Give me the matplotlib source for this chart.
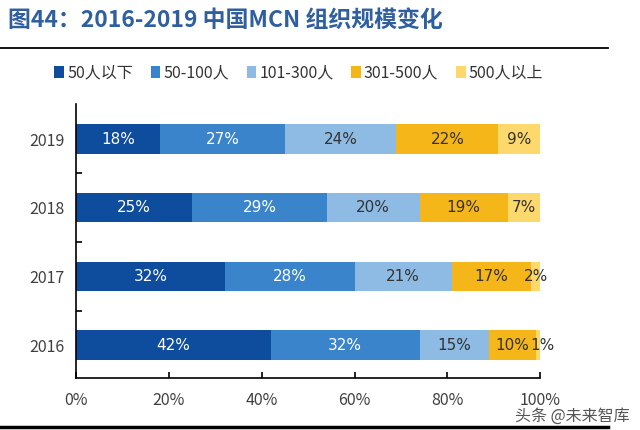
import numpy as np
from matplotlib import pyplot as plt

plt.rcParams["font.family"] = ["Noto Sans CJK SC", "DejaVu Sans"]

years = ["2016", "2017", "2018", "2019"]
categories = ["50人以下", "50-100人", "101-300人", "301-500人", "500人以上"]
# share of each size group per year (%), rows follow years
shares = {
    "50人以下": [42, 32, 25, 18],
    "50-100人": [32, 28, 29, 27],
    "101-300人": [15, 21, 20, 24],
    "301-500人": [10, 17, 19, 22],
    "500人以上": [1, 2, 7, 9],
}
colors = ["#0e4c9e", "#3a84cc", "#8dbbe4", "#f5b619", "#fdd86c"]
label_colors = ["white", "white", "#333333", "#333333", "#333333"]

fig = plt.figure(figsize=(6.4, 4.3), dpi=100)
ax = fig.add_axes([0.119, 0.121, 0.725, 0.637])

y = np.arange(len(years))
left = np.zeros(len(years))
for cat, col, tcol in zip(categories, colors, label_colors):
    vals = np.array(shares[cat], dtype=float)
    ax.barh(y, vals, left=left, height=0.43, color=col, label=cat)
    for yi, (lft, v) in enumerate(zip(left, vals)):
        xpos = lft + v / 2
        # thin 1% slice: push label a little right so it clears its neighbour
        if v < 2:
            xpos = lft + v + 0.5
        ax.text(xpos, yi, f"{int(v)}%", ha="center", va="center",
                color=tcol, fontsize=11, family=["DejaVu Sans"])
    left += vals

ax.set_xlim(0, 100)
ax.set_ylim(-0.48, 3.51)
ax.set_xticks([0, 20, 40, 60, 80, 100])
ax.set_xticklabels(["0%", "20%", "40%", "60%", "80%", "100%"])
ax.set_yticks(y)
ax.set_yticklabels(years)
ax.set_yticks([0.5, 1.5, 2.5], minor=True)
ax.tick_params(axis="both", labelsize=11.5, labelcolor="#404040")
ax.tick_params(axis="y", which="major", length=0, pad=8)
ax.tick_params(axis="y", which="minor", direction="in", length=4, width=1.2)
ax.tick_params(axis="x", direction="in", length=4, width=1.2, pad=10)
for s in ["top", "right"]:
    ax.spines[s].set_visible(False)
for s in ["left", "bottom"]:
    ax.spines[s].set_color("black")
    ax.spines[s].set_linewidth(1.2)

ax.legend(loc="lower center", bbox_to_anchor=(0.48, 1.03), ncol=5, frameon=False,
          fontsize=11.5, handlelength=0.6, handleheight=0.8, handletextpad=0.2,
          columnspacing=1.1, labelcolor="#333333")

fig.text(0.012, 0.953, "图44：2016-2019 中国MCN 组织规模变化", fontsize=16.5,
         fontweight="bold", color="#2f5f9e", va="center")
fig.add_artist(plt.Line2D([0, 0.95], [0.888, 0.888], color="black", lw=1.3))
fig.add_artist(plt.Line2D([0, 0.95], [0.007, 0.007], color="black", lw=2.5))
fig.text(0.805, 0.033, "头条 @未来智库", fontsize=11.5, color="#555555", va="center")

fig.savefig("out.png", dpi=100)
